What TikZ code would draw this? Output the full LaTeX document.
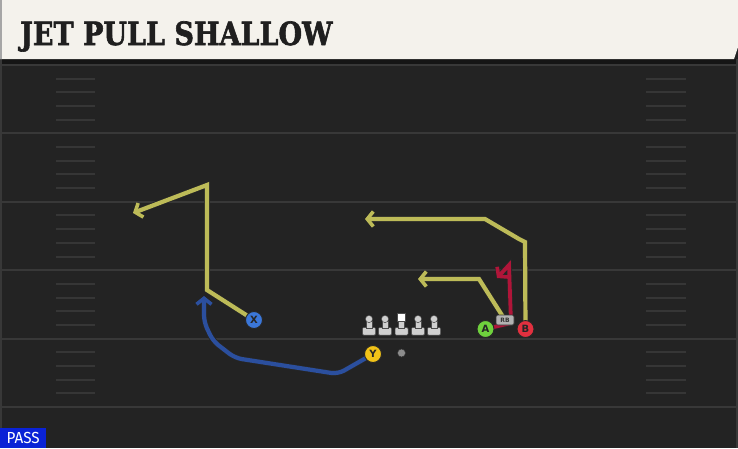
\documentclass[tikz,border=0pt]{standalone}
\usepackage{fontspec}
\usepackage{graphicx}
\setmainfont{DejaVu Sans}
\newfontfamily\titlefont{DejaVu Serif}[FakeBold=2]
\newfontfamily\passfont{Fira Sans}
\usetikzlibrary{arrows.meta}
\definecolor{fieldbg}{HTML}{232323}
\definecolor{yardc}{HTML}{383838}
\definecolor{hashc}{HTML}{363636}
\definecolor{headerc}{HTML}{F4F2EC}
\definecolor{titlec}{HTML}{1F1F1F}
\definecolor{yelc}{HTML}{BDBB58}
\definecolor{bluerc}{HTML}{2B4F9E}
\definecolor{redrc}{HTML}{B01539}
\definecolor{xfill}{HTML}{3B77D9}
\definecolor{yfill}{HTML}{F2C318}
\definecolor{afill}{HTML}{6FD13D}
\definecolor{bfill}{HTML}{E2303F}
\definecolor{passc}{HTML}{0A22D6}
\definecolor{linec}{HTML}{CFCFCF}
\pgfdeclarelayer{bg}
\pgfdeclarelayer{routes}
\pgfsetlayers{bg,routes,main}
\tikzset{
  player/.style={circle, inner sep=0pt, minimum size=17pt, draw=black!85, line width=0.9pt,
    font=\bfseries\fontsize{10}{10}\selectfont, text=black!85},
  route/.style={line width=4.2pt, line join=miter, preaction={draw=black!85, line width=5.8pt},
    -{Straight Barb[length=6pt,width=15pt,line width=3.6pt]}},
  yroute/.style={route, draw=yelc},
  broute/.style={route, draw=bluerc, rounded corners=7pt},
  rroute/.style={route, draw=redrc},
  yardline/.style={draw=yardc, line width=2pt},
  hashmark/.style={draw=hashc, line width=2pt},
  lineman/.style={fill=linec, draw=black!70, line width=0.5pt},
  rbtag/.style={rounded corners=1.5pt, fill=black!30, draw=black!80, line width=0.6pt,
    minimum width=18pt, minimum height=10pt, inner sep=0pt,
    font=\bfseries\fontsize{6}{6}\selectfont, text=black!80},
}
\begin{document}
\begin{tikzpicture}[x=1pt,y=-1pt]
\useasboundingbox (0,0) rectangle (738,448);
\begin{pgfonlayer}{bg}
  \fill[fieldbg] (0,0) rectangle (738,448);
  \fill[black!40!fieldbg] (0,59) rectangle (738,64);
  \fill[yardc] (0,59) rectangle (2,448);
  \fill[yardc] (736,59) rectangle (738,448);
  \foreach \i in {0,...,5} {
    \draw[yardline] (0,65+68.4*\i) -- (738,65+68.4*\i);
  }
  \foreach \i in {0,...,4} {
    \foreach \k in {1,...,4} {
      \draw[hashmark] (56,65+68.4*\i+13.68*\k) -- (95,65+68.4*\i+13.68*\k);
      \draw[hashmark] (646,65+68.4*\i+13.68*\k) -- (686,65+68.4*\i+13.68*\k);
    }
  }
  \fill[headerc] (0,0) -- (738,0) -- (738,47) -- (734,59) -- (0,59) -- cycle;
  \fill[black!35] (0,0) rectangle (2,59);
  \node[anchor=base west, inner sep=0pt, text=titlec] (title) at (20,45)
    {\scalebox{0.845}[1]{\titlefont\bfseries\fontsize{32}{32}\selectfont JET PULL SHALLOW}};
\end{pgfonlayer}

% players
\node[player, fill=xfill] (X) at (254,320) {X};
\node[player, fill=yfill] (Y) at (373,354) {Y};
\node[player, fill=afill] (A) at (485.5,329) {A};
\node[player, fill=bfill] (B) at (525.5,329) {B};
\node[circle, fill=black!45, draw=black!80, line width=0.5pt, minimum size=8pt, inner sep=0pt] (ball) at (401.5,353) {};
\node[rbtag] (RB) at (505,320) {RB};

% linemen
\foreach \x in {369,385,418,434} {
  \fill[lineman, rounded corners=1pt] (\x-6.5,327.5) rectangle (\x+6.5,335);
  \fill[lineman] (\x-3,321) rectangle (\x+3,328.5);
  \fill[lineman] (\x,319) circle (3.6);
}
\fill[lineman, rounded corners=1pt] (401.5-6.5,327.5) rectangle (401.5+6.5,335);
\fill[lineman] (401.5-3,320) rectangle (401.5+3,328.5);
\fill[fill=white, draw=black!70, line width=0.5pt] (397.5,313) rectangle (405.5,321.5);

\begin{pgfonlayer}{routes}
  \draw[yroute] (X.center) -- (207,290) -- (207,185) -- (133,213);
  \draw[broute] (Y.center) -- (338,374) -- (235,358) -- (213,341) -- (204,322) -- (204,296);
  \draw[yroute] (RB.center) -- (479,279) -- (418,279);
  \draw[yroute] (B.center) -- (525,242) -- (519,239) -- (485,219) -- (365,219);
  \draw[rroute, line width=3.8pt, preaction={draw=black!85, line width=5.2pt}] (A.center) -- (511,323) -- (509,265) -- (497,278);
\end{pgfonlayer}

% pass label
\node[anchor=south west, fill=passc, text=white, minimum width=46pt, minimum height=20pt, inner sep=0pt,
  font=\passfont\fontsize{16}{16}\selectfont] (pass) at (0,448) {\scalebox{0.95}[1]{PASS}};
\end{tikzpicture}
\end{document}
